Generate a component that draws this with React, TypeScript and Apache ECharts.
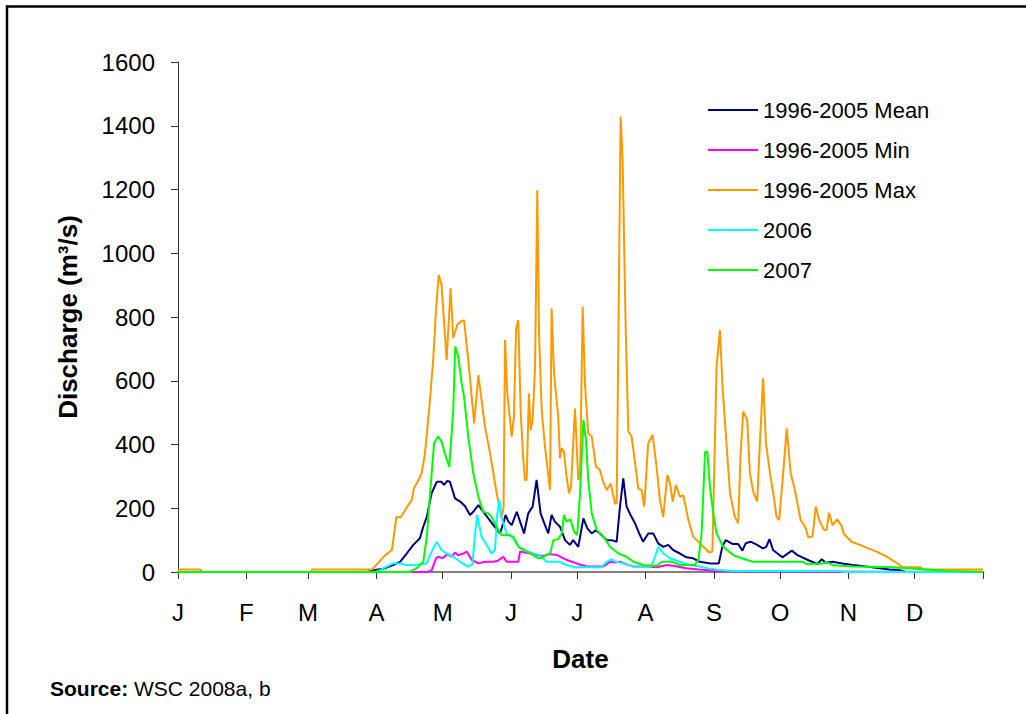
import React, { useEffect, useRef } from "react";
import * as echarts from "echarts";

const monthLabels = ["J", "F", "M", "A", "M", "J", "J", "A", "S", "O", "N", "D"];
const monthStartDays = [0, 31, 59, 90, 120, 151, 181, 212, 243, 273, 304, 334, 365];

const seriesNames = ["1996-2005 Mean", "1996-2005 Min", "1996-2005 Max", "2006", "2007"];
const seriesColors = ["#000080", "#FF00FF", "#FF9900", "#00FFFF", "#00FF00"];

// [day of year, discharge m3/s]
const meanData: [number, number][] = [
  [0, 0], [86, 0], [88, 5], [93, 10], [97.6, 22], [100.7, 32], [103.7, 58], [106.7, 85], [109.7, 106],
  [111.2, 142], [112.8, 173], [115, 247], [117.3, 283], [119.5, 283], [120.6, 273], [122.1, 286],
  [123.3, 283], [125.6, 231], [127.9, 221], [130.1, 207], [132.4, 179], [133.9, 189], [136.2, 210],
  [138.4, 189], [140.7, 168], [143, 147], [146, 121], [147.8, 160], [148.5, 179], [149.8, 158],
  [151.3, 147], [153.6, 189], [155.1, 158], [156.9, 121], [158.8, 184], [160.8, 205], [162.6, 289],
  [164.4, 184], [166.4, 147], [167.9, 121], [169.4, 179], [170.9, 158], [173.2, 142], [175.5, 100],
  [177.7, 85], [179.2, 100], [181.5, 79], [183.8, 168], [185.6, 137], [187.6, 121], [189.5, 132],
  [191.3, 121], [194.4, 100], [196.6, 100], [198.9, 95], [200.4, 205], [201.9, 294], [203.4, 205],
  [205.2, 179], [207.2, 153], [209.1, 121], [210.9, 95], [213.2, 121], [215.5, 121], [217.7, 90],
  [220, 79], [222.3, 85], [224.5, 69], [227.6, 58], [230.6, 46], [233.6, 43], [236.6, 32], [241.5, 27],
  [245.2, 27], [246.8, 79], [248.3, 100], [251.4, 88], [254, 88], [255.9, 67], [257.4, 90], [259.6, 95],
  [262.6, 85], [265.2, 74], [266.7, 79], [268.2, 103], [269.8, 69], [274, 46], [278.3, 67], [280.9, 53],
  [286.1, 36], [290, 25], [291.9, 40], [293.7, 29], [296.8, 32], [301.3, 27], [305.9, 22], [312, 17],
  [322.6, 8], [327.2, 6], [330, 0], [365, 0],
];

const minData: [number, number][] = [
  [0, 0], [113, 0], [115, 5], [117, 43], [118, 48], [120, 43], [122, 56], [124, 48], [125.6, 61],
  [127, 53], [129.4, 58], [130.9, 64], [133.2, 38], [136.2, 27], [139.2, 32], [143, 32], [145, 35],
  [147.5, 48], [149, 32], [154.3, 32], [155.1, 64], [159.6, 58], [162.6, 53], [165.6, 50], [168.7, 56],
  [172, 53], [174.7, 43], [177, 36], [181.5, 25], [185.3, 17], [192.8, 17], [195.9, 32], [198, 30],
  [200.4, 32], [203, 25], [206.4, 17], [212.4, 17], [217, 15], [221.6, 22], [225, 19], [230.6, 12],
  [236, 8], [240, 6], [244, 2], [365, 0],
];

const maxData: [number, number][] = [
  [0, 8], [10, 8], [11, 0], [60, 0], [61, 8], [88, 8], [94, 53], [97, 69], [99, 172], [101, 172],
  [104, 205], [106, 226], [107, 263], [109, 288], [110.5, 310], [112, 373], [114, 519], [115.7, 665],
  [117, 822], [118.2, 932], [119.5, 900], [121.8, 665], [123.6, 890], [124.8, 734], [126.6, 775],
  [128, 785], [129.7, 790], [131.6, 665], [134.3, 466], [136.2, 618], [139.2, 456], [141.5, 372],
  [144.5, 247], [146.7, 170], [147.6, 200], [148.3, 728], [149.3, 561], [151.3, 425], [152.3, 487],
  [153.3, 765], [154.3, 790], [155.4, 498], [156.6, 351], [157.3, 289], [158.1, 289], [159.1, 561],
  [159.9, 445], [160.8, 477], [161.9, 644], [162.9, 1198], [163.7, 749], [164.9, 508], [166.4, 393],
  [168.7, 257], [169.4, 827], [170.5, 623], [172.4, 487], [173.2, 357], [174, 388], [175, 377],
  [176.2, 299], [177.3, 247], [178.2, 268], [180, 513], [181.5, 289], [182.3, 299], [183.5, 832],
  [184.5, 592], [186, 435], [187.6, 425], [189.5, 330], [191.3, 320], [192.8, 283], [194.4, 257],
  [196.2, 278], [198.1, 215], [198.9, 215], [200.7, 1428], [201.6, 1292], [203, 759], [204.2, 440],
  [205.7, 425], [208.7, 262], [210.2, 257], [211.4, 205], [213.2, 404], [215.2, 430], [217, 330],
  [218.5, 226], [220, 173], [221.9, 304], [223.1, 278], [224.3, 221], [225.8, 273], [227.6, 236],
  [229.1, 241], [231.4, 163], [233.6, 111], [237.4, 85], [240.8, 61], [242.3, 64], [244.2, 644],
  [245.7, 759], [246.9, 581], [248.8, 393], [250.3, 247], [252.5, 173], [254, 153], [255.1, 372],
  [256.3, 503], [258.1, 477], [259.3, 310], [260.8, 252], [262.6, 221], [263.9, 414], [265.3, 608],
  [266.6, 404], [268.4, 310], [269.9, 247], [271.4, 173], [272.6, 163], [274.4, 310], [276, 451],
  [277.8, 310], [279.7, 257], [282.3, 163], [284.7, 137], [285.7, 109], [287.7, 111], [289.2, 205],
  [290.7, 163], [292.9, 132], [294.1, 132], [295.2, 186], [296.8, 147], [298.9, 165], [300.9, 144],
  [301.9, 119], [305.4, 95], [309.2, 85], [313, 74], [316.8, 64], [321.3, 48], [325.1, 32], [328.6, 15],
  [336.4, 15], [338, 8], [365, 8],
];

const y2006Data: [number, number][] = [
  [0, 0], [89, 0], [91.6, 6], [94.6, 17], [97.6, 27], [100.7, 27], [103.7, 22], [106.7, 22], [110, 24],
  [112.8, 27], [115, 64], [117.3, 95], [119.5, 69], [121.8, 58], [124.8, 48], [127.9, 32], [131.6, 17],
  [133.5, 25], [134.7, 121], [135.7, 179], [137.6, 111], [139.9, 85], [142.2, 58], [143.7, 69],
  [144.8, 184], [145.7, 226], [146.8, 168], [149, 121], [151.3, 111], [152, 106], [155.1, 74],
  [158.1, 64], [161.1, 58], [164.1, 53], [167.1, 32], [173, 32], [176.2, 22], [180, 15], [192, 15],
  [194.4, 32], [196.6, 40], [198.5, 32], [201.9, 27], [206.4, 17], [214.5, 17], [216.3, 48],
  [217.8, 79], [220, 58], [223.1, 43], [227.6, 32], [232.1, 22], [236.6, 17], [240, 12], [245, 6],
  [252, 3], [300, 3], [302, 0], [365, 0],
];

const y2007Data: [number, number][] = [
  [0, 0], [105, 0], [108.2, 12], [111.2, 32], [112.8, 111], [114.3, 247], [116.1, 404], [118, 425],
  [119.5, 409], [121, 372], [123, 330], [124.8, 508], [125.7, 707], [127.1, 675], [128.6, 592],
  [129.7, 550], [131.6, 425], [133.9, 310], [136.2, 236], [138.4, 189], [140.7, 184], [142.2, 173],
  [144.5, 142], [146.7, 116], [150, 116], [152, 111], [154.3, 79], [157.3, 69], [161.1, 53], [163.2, 43],
  [165, 45], [167.1, 53], [168.7, 58], [170.2, 100], [172.4, 103], [174, 121], [175, 179], [176.2, 158],
  [178, 165], [179.5, 127], [181, 116], [182.3, 247], [183.8, 477], [185, 414], [186, 289], [187.6, 184],
  [189.9, 132], [192.9, 111], [195.9, 79], [199.7, 58], [203.4, 48], [206.4, 32], [210.9, 22], [217, 19],
  [219.3, 32], [224, 32], [227.6, 22], [234.3, 22], [236, 40], [237.4, 121], [239, 377], [240, 377],
  [241.2, 268], [242.7, 184], [244.2, 121], [247.2, 79], [251.8, 53], [255.5, 43], [260.8, 32],
  [283.5, 32], [285, 25], [292.6, 27], [294, 32], [297, 21], [306, 17], [324, 15], [342.5, 6], [350, 3],
  [365, 0],
];

const allData = [meanData, minData, maxData, y2006Data, y2007Data];

const FONT = '"Liberation Sans", Arial, sans-serif';

export default function App() {
  const ref = useRef<HTMLDivElement>(null);
  useEffect(() => {
    document.body.style.margin = "0";
    const chart = echarts.init(ref.current!, null, { renderer: "svg" });
    chart.setOption({
      animation: false,
      backgroundColor: "#fff",
      textStyle: { fontFamily: FONT },
      grid: { left: 178, right: 43, top: 62, bottom: 142, containLabel: false },
      legend: {
        orient: "vertical",
        left: 703,
        top: 94,
        icon: "rect",
        itemWidth: 50,
        itemHeight: 2,
        itemGap: 18,
        data: seriesNames,
        textStyle: { fontFamily: FONT, fontSize: 22, color: "#000", lineHeight: 22 },
      },
      xAxis: {
        type: "value",
        min: 0,
        max: 365,
        name: "Date",
        nameLocation: "middle",
        nameGap: 74,
        nameTextStyle: { fontFamily: FONT, fontSize: 26, fontWeight: "bold", color: "#000" },
        axisLine: { show: true, lineStyle: { color: "#808080", width: 2 } },
        axisTick: {
          show: true,
          length: 7,
          customValues: monthStartDays,
          lineStyle: { color: "#333", width: 1 },
        },
        axisLabel: {
          customValues: monthStartDays.slice(0, 12),
          margin: 28,
          fontFamily: FONT,
          fontSize: 24,
          color: "#000",
          formatter: (v: number) => {
            const i = monthStartDays.indexOf(Math.round(v));
            return i >= 0 && i < 12 ? monthLabels[i] : "";
          },
        },
        splitLine: { show: false },
      },
      yAxis: {
        type: "value",
        min: 0,
        max: 1600,
        interval: 200,
        name: "Discharge (m³/s)",
        nameLocation: "middle",
        nameGap: 97,
        nameTextStyle: { fontFamily: FONT, fontSize: 26, fontWeight: "bold", color: "#000" },
        axisLine: { show: true, lineStyle: { color: "#333", width: 1 } },
        axisTick: { show: true, length: 7, lineStyle: { color: "#333" } },
        axisLabel: {
          margin: 23,
          fontFamily: FONT,
          fontSize: 24,
          color: "#000",
          formatter: (v: number) => String(v),
        },
        splitLine: { show: false },
      },
      series: seriesNames.map((name, i) => ({
        type: "line",
        name,
        data: allData[i],
        symbol: "none",
        lineStyle: { width: 2, color: seriesColors[i] },
        itemStyle: { color: seriesColors[i] },
      })),
      graphic: [
        {
          type: "line",
          shape: { x1: 6, y1: 6.5, x2: 1026, y2: 6.5 },
          style: { stroke: "#000", lineWidth: 2.5 },
        },
        {
          type: "line",
          shape: { x1: 7, y1: 5.5, x2: 7, y2: 714 },
          style: { stroke: "#000", lineWidth: 2.5 },
        },
        {
          type: "text",
          x: 50,
          y: 688,
          style: {
            text: "{b|Source:} WSC 2008a, b",
            fontFamily: FONT,
            fontSize: 21,
            fill: "#000",
            verticalAlign: "middle",
            rich: { b: { fontFamily: FONT, fontSize: 21, fontWeight: "bold", fill: "#000" } },
          },
        },
      ],
    });
    return () => chart.dispose();
  }, []);
  return <div ref={ref} style={{ width: 1026, height: 714 }} />;
}
